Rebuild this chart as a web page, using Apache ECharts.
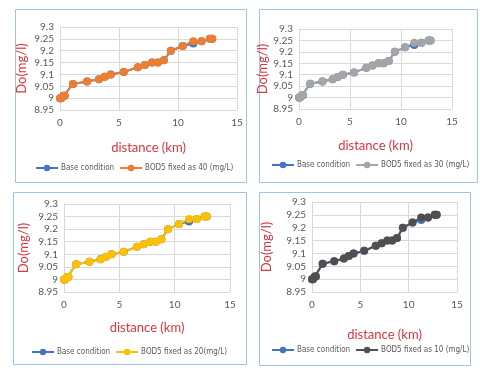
<!DOCTYPE html>
<html>
<head>
<meta charset="utf-8">
<script src="https://cdn.jsdelivr.net/npm/echarts@6/dist/echarts.min.js"></script>
<style>
  html, body { margin: 0; padding: 0; background: #fff; }
  #main { width: 480px; height: 370px; }
</style>
</head>
<body>
<div id="main"></div>
<script>
// distance along the river (km) and dissolved oxygen (mg/l)
var distanceKm = [0, 0.1, 0.3, 0.4, 1.1, 2.3, 3.3, 3.8, 4.3, 5.4, 6.6, 7.2, 7.8, 8.3, 8.8, 9.4, 10.4, 11.3, 12.0, 12.7, 12.9]
var baseDo     = [9.0, 9.0, 9.01, 9.01, 9.06, 9.07, 9.08, 9.09, 9.1, 9.11, 9.13, 9.14, 9.15, 9.15, 9.16, 9.2, 9.22, 9.23, 9.24, 9.25, 9.25]
var bod40Do    = [9.0, 9.0, 9.01, 9.01, 9.06, 9.07, 9.08, 9.09, 9.1, 9.11, 9.13, 9.14, 9.15, 9.15, 9.16, 9.2, 9.22, 9.24, 9.24, 9.25, 9.25]
var bod30Do    = [9.0, 9.0, 9.01, 9.01, 9.06, 9.07, 9.08, 9.09, 9.1, 9.11, 9.13, 9.14, 9.15, 9.15, 9.16, 9.2, 9.22, 9.24, 9.24, 9.25, 9.25]
var bod20Do    = [9.0, 9.0, 9.01, 9.01, 9.06, 9.07, 9.08, 9.09, 9.1, 9.11, 9.13, 9.14, 9.15, 9.15, 9.16, 9.2, 9.22, 9.24, 9.24, 9.25, 9.25]
var bod10Do    = [9.0, 9.0, 9.01, 9.01, 9.06, 9.07, 9.08, 9.09, 9.1, 9.11, 9.13, 9.14, 9.15, 9.15, 9.16, 9.2, 9.22, 9.24, 9.24, 9.25, 9.25]
var xTicks = [0, 5, 10, 15]
var yTicks = [8.95, 9, 9.05, 9.1, 9.15, 9.2, 9.25, 9.3]

var font = 'Lato'

var panels = [
  { name: 'BOD5 fixed as 40 (mg/L)', values: bod40Do, color: '#ED7D31',
    box: [15, 9, 231, 173], grid: [60, 27, 177, 83], xGap: 31, yGap: 32, legend: [35, 164] },
  { name: 'BOD5 fixed as 30 (mg/L)', values: bod30Do, color: '#A5A5A5',
    box: [259, 9, 218, 173], grid: [299, 29, 153, 80], xGap: 30, yGap: 29, legend: [271, 161] },
  { name: 'BOD5 fixed as 20(mg/L)', values: bod20Do, color: '#FFC000',
    box: [13, 192, 233, 172], grid: [64, 204, 166, 88], xGap: 29, yGap: 34, legend: [31, 348] },
  { name: 'BOD5 fixed as 10 (mg/L)', values: bod10Do, color: '#4F4F4F',
    box: [259, 192, 211, 173], grid: [312, 202, 145, 90], xGap: 36, yGap: 39, legend: [271, 346] }
]

function pairs(ys) {
  return distanceKm.map(function (x, i) { return [x, ys[i]] })
}

var chart = echarts.init(document.getElementById('main'))
var option = {
  backgroundColor: '#fff',
  animation: false,
  grid: [], xAxis: [], yAxis: [], legend: [], series: [], graphic: []
}

panels.forEach(function (p, i) {
  option.graphic.push({
    type: 'rect', silent: true,
    shape: { x: p.box[0] + 0.5, y: p.box[1] + 0.5, width: p.box[2], height: p.box[3] },
    style: { fill: 'none', stroke: '#9DC3E6', lineWidth: 1 }
  })
  option.grid.push({ left: p.grid[0], top: p.grid[1], width: p.grid[2], height: p.grid[3] })
  option.xAxis.push({
    type: 'value', gridIndex: i, min: xTicks[0], max: xTicks[xTicks.length - 1], interval: 5,
    name: 'distance (km)', nameLocation: 'middle', nameGap: p.xGap,
    nameTextStyle: { color: '#D9363E', fontSize: 13, fontFamily: font },
    axisLine: { show: false }, axisTick: { show: false },
    axisLabel: { color: '#595959', fontSize: 10, margin: 8, fontFamily: font },
    splitLine: { lineStyle: { color: '#D9D9D9' } }
  })
  option.yAxis.push({
    type: 'value', gridIndex: i, min: yTicks[0], max: yTicks[yTicks.length - 1], interval: 0.05,
    name: 'Do(mg/l)', nameLocation: 'middle', nameGap: p.yGap, nameRotate: 90,
    nameTextStyle: { color: '#D9363E', fontSize: 13, fontFamily: font },
    axisLine: { show: true, lineStyle: { color: '#D9D9D9' } }, axisTick: { show: false },
    axisLabel: {
      color: '#595959', fontSize: 10, margin: 6, fontFamily: font,
      formatter: function (v) { return String(+v.toFixed(2)) }
    },
    splitLine: { lineStyle: { color: '#D9D9D9' } }
  })
  option.legend.push({
    left: p.legend[0], top: p.legend[1], width: 230, orient: 'horizontal',
    itemWidth: 22, itemHeight: 8, itemGap: 5, padding: 0,
    data: ['Base condition', p.name],
    textStyle: { color: '#595959', fontSize: 8, fontFamily: 'DejaVu Sans Condensed', padding: [0, 0, 0, -2] }
  })
  option.series.push({
    name: 'Base condition', type: 'line', xAxisIndex: i, yAxisIndex: i,
    data: pairs(baseDo), symbol: 'circle', symbolSize: 8,
    itemStyle: { color: '#4472C4' }, lineStyle: { color: '#4472C4', width: 2 }
  })
  option.series.push({
    name: p.name, type: 'line', xAxisIndex: i, yAxisIndex: i,
    data: pairs(p.values), symbol: 'circle', symbolSize: 8,
    itemStyle: { color: p.color }, lineStyle: { color: p.color, width: 2 }
  })
})

chart.setOption(option)
</script>
</body>
</html>
